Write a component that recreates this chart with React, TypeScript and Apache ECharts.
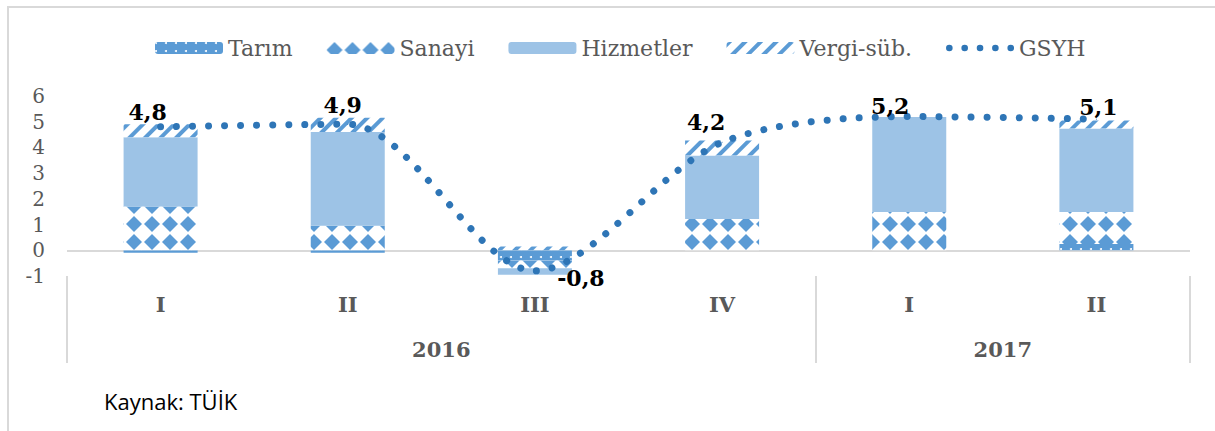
import { useEffect, useRef } from 'react';
import * as echarts from 'echarts';

// ---- data ----
const quarters = ['I', 'II', 'III', 'IV', 'I', 'II'];
const years = ['2016', '2017'];
const yearSpans = [4, 2];
const tarim = [-0.1, -0.1, -0.4, 0, 0, 0.24];
const sanayi = [1.7, 0.95, -0.3, 1.22, 1.49, 1.25];
const hizmetler = [2.7, 3.65, -0.25, 2.47, 3.69, 3.25];
const vergi = [0.5, 0.55, 0.15, 0.58, 0, 0.31];
const gsyh = [4.8, 4.9, -0.8, 4.2, 5.2, 5.1];
const yTicks = [-1, 0, 1, 2, 3, 4, 5, 6];
const seriesNames = ['Tarım', 'Sanayi', 'Hizmetler', 'Vergi-süb.', 'GSYH'];
const sourceText = 'Kaynak: TÜİK';

// ---- styles ----
const FONT = "'DejaVu Serif', serif";
const GRAY = '#595959';
const BLUE = '#5B9BD5';
const LIGHT = '#9DC3E6';
const LINE = '#2E75B6';
const labelOffsets = [
  [-13, -15],
  [-5, -19],
  [46, 7],
  [-16, -20],
  [-19, -11],
  [2, -12],
];
const fmt = (v: number) => String(v).replace('.', ',');

const dotsIcon =
  'path://' +
  [3.5, 19.75, 36, 52.25, 68.5]
    .map((c) => `M${c - 3.5},3.5a3.5,3.5 0 1,0 7,0a3.5,3.5 0 1,0 -7,0Z`)
    .join('');

export default function App() {
  const ref = useRef<HTMLDivElement>(null);

  useEffect(() => {
    if (!ref.current) return;
    const chart = echarts.init(ref.current, undefined, { renderer: 'svg' });

    const bounds: number[] = [0];
    yearSpans.forEach((s) => bounds.push(bounds[bounds.length - 1] + s));
    const centers = yearSpans.map((s, i) => bounds[i] + s / 2);

    const option: any = {
      animation: false,
      backgroundColor: '#ffffff',
      grid: { left: 67, right: 25, top: 96, bottom: 155, containLabel: false },
      legend: {
        left: 150,
        top: 32,
        itemWidth: 68,
        itemHeight: 12,
        itemGap: 34,
        textStyle: { fontFamily: FONT, fontSize: 22, color: GRAY },
        data: [
          seriesNames[0],
          seriesNames[1],
          seriesNames[2],
          seriesNames[3],
          { name: seriesNames[4], icon: dotsIcon },
        ],
      },
      xAxis: [
        {
          type: 'category',
          data: quarters,
          position: 'bottom',
          axisLine: { show: false },
          axisTick: { show: false },
          axisLabel: {
            fontFamily: FONT,
            fontWeight: 'bold',
            fontSize: 21,
            color: GRAY,
            margin: 18,
          },
        },
        {
          type: 'value',
          min: 0,
          max: quarters.length,
          position: 'bottom',
          axisLine: { show: false },
          splitLine: { show: false },
          axisTick: {
            show: true,
            customValues: bounds,
            length: 87,
            lineStyle: { color: '#d9d9d9', width: 2 },
          },
          axisLabel: {
            customValues: centers,
            formatter: (v: number) => {
              const i = centers.indexOf(v);
              return i >= 0 ? years[i] : '';
            },
            fontFamily: FONT,
            fontWeight: 'bold',
            fontSize: 21,
            color: GRAY,
            margin: 63,
          },
        },
      ],
      yAxis: {
        type: 'value',
        min: yTicks[0],
        max: yTicks[yTicks.length - 1],
        interval: 1,
        axisLine: { show: false },
        axisTick: { show: false },
        splitLine: {
          show: true,
          lineStyle: {
            color: yTicks.map((v) => (v === 0 ? '#d9d9d9' : 'rgba(0,0,0,0)')),
            width: 2,
          },
        },
        axisLabel: { fontFamily: FONT, fontSize: 20, color: GRAY, margin: 22 },
      },
      series: [
        {
          name: seriesNames[0],
          type: 'bar',
          stack: 'total',
          barWidth: 74,
          data: tarim,
          itemStyle: {
            color: BLUE,
            decal: {
              symbol: 'circle',
              color: '#ffffff',
              symbolSize: 1,
              dashArrayX: [2, 8],
              dashArrayY: [2, 6],
            },
          },
        },
        {
          name: seriesNames[1],
          type: 'bar',
          stack: 'total',
          barWidth: 74,
          data: sanayi,
          itemStyle: {
            color: '#ffffff',
            decal: {
              symbol: 'diamond',
              color: BLUE,
              symbolSize: 1,
              dashArrayX: [16, 2],
              dashArrayY: [16, 2],
            },
          },
        },
        {
          name: seriesNames[2],
          type: 'bar',
          stack: 'total',
          barWidth: 74,
          data: hizmetler,
          itemStyle: { color: LIGHT },
        },
        {
          name: seriesNames[3],
          type: 'bar',
          stack: 'total',
          barWidth: 74,
          data: vergi,
          itemStyle: {
            color: '#ffffff',
            decal: {
              symbol: 'rect',
              color: BLUE,
              symbolSize: 1,
              dashArrayX: [1, 0],
              dashArrayY: [4, 7],
              rotation: -Math.PI / 4,
            },
          },
        },
        {
          name: seriesNames[4],
          type: 'line',
          smooth: 0.3,
          symbol: 'circle',
          symbolSize: 1,
          itemStyle: { color: LINE },
          lineStyle: { color: LINE, width: 7, type: [0.01, 16], cap: 'round' },
          data: gsyh.map((v, i) => ({ value: v, label: { offset: labelOffsets[i] } })),
          label: {
            show: true,
            position: 'inside',
            formatter: (p: any) => fmt(p.value),
            fontFamily: FONT,
            fontWeight: 'bold',
            fontSize: 22,
            color: '#000000',
          },
          z: 5,
        },
      ],
      graphic: [
        {
          type: 'polyline',
          silent: true,
          shape: { points: [[1215, 7], [8, 7], [8, 431]] },
          style: { stroke: '#d9d9d9', lineWidth: 2, fill: null },
        },
        {
          type: 'text',
          left: 104,
          top: 390,
          style: { text: sourceText, font: "22px 'Open Sans'", fill: '#000000' },
        },
      ],
    };

    chart.setOption(option);
    return () => chart.dispose();
  }, []);

  return (
    <div
      ref={ref}
      style={{ position: 'absolute', left: 0, top: 0, width: 1215, height: 431 }}
    />
  );
}
